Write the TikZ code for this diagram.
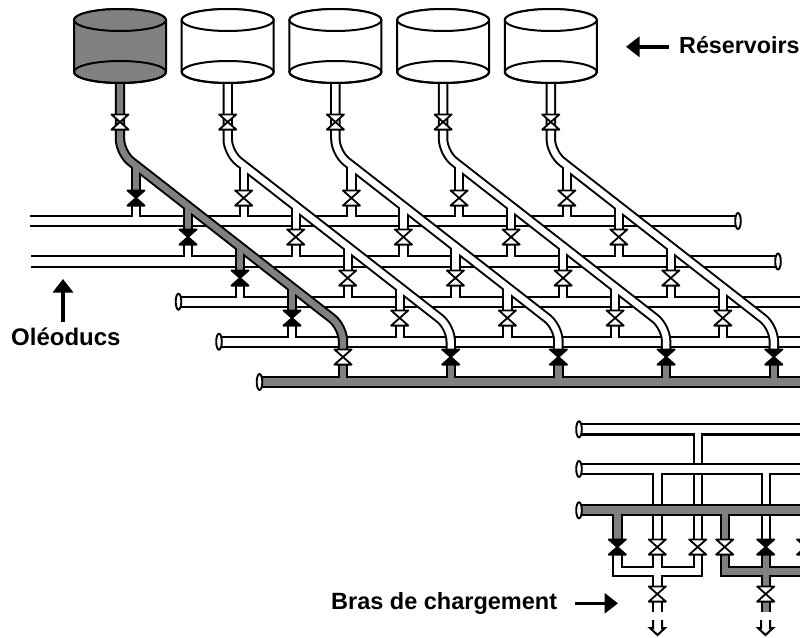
\documentclass[tikz,border=0pt]{standalone}
\usepackage{fontspec}
\setsansfont{Liberation Sans}
\usetikzlibrary{arrows.meta}
\definecolor{oil}{HTML}{808080}
\tikzset{
  mainO/.style={line width=12.4pt,black},
  mainI/.style={line width=8.2pt},
  stemO/.style={line width=10.4pt,black},
  stemI/.style={line width=6.4pt},
  capend/.style={draw=black,fill=white,line width=1.9pt},
  valvebody/.style={draw=black,line width=1.8pt,line join=round},
  tankline/.style={draw=black,line width=2pt},
  hollow/.style={draw=black,fill=white,line width=2pt,line join=miter},
  pointer/.style={black,line width=3.6pt,-{Triangle[length=13.5pt,width=20pt]}},
  caption/.style={font=\sffamily\bfseries\fontsize{24}{27}\selectfont,anchor=base west,inner sep=0pt}
}
% horizontal main with interior colour: #1 y, #2 x0, #3 x1, #4 colour
\newcommand{\mainpipe}[4]{%
  \draw[mainO] (#2,#1) -- (#3,#1);
  \draw[mainI,draw=#4] (#2-1,#1) -- (#3,#1);}
\newcommand{\pipecap}[2]{\draw[capend] (#1,#2) ellipse [x radius=2.8,y radius=8];}
% bow-tie valve: x, y, fill
\newcommand{\valve}[3]{\draw[valvebody,fill=#3] (#1-8.6,#2-7.6) -- (#1+8.6,#2-7.6) -- (#1-8.6,#2+7.6) -- (#1+8.6,#2+7.6) -- cycle;}
% stem dropping into a main: x, top y, outer end, interior end, colour
\newcommand{\dropstem}[5]{%
  \draw[stemO] (#1,#2) -- (#1,#3);
  \draw[stemI,draw=#5] (#1,#2) -- (#1,#4);}
% stem rising out of a main: x, interior start, outer start, end, colour
\newcommand{\risestem}[5]{%
  \draw[stemO] (#1,#3) -- (#1,#4);
  \draw[stemI,draw=#5] (#1,#2) -- (#1,#4);}
\newcommand{\hollowarrow}[1]{\draw[hollow] (#1-4.5,620) -- (#1-4.5,628) -- (#1-7.5,628) -- (#1,635) -- (#1+7.5,628) -- (#1+4.5,628) -- (#1+4.5,620);}
\begin{document}
\begin{tikzpicture}[x=1pt,y=-1pt]
\clip (0,0) rectangle (800,637);
\fill[white] (0,0) rectangle (800,637);
% ---- upper mains
\mainpipe{221}{30}{738}{white}
\mainpipe{261.5}{31}{778}{white}
\mainpipe{301.7}{178}{810}{white}
\mainpipe{341.7}{219}{810}{white}
\draw[line width=11.8pt,black] (259,382) -- (810,382);
\draw[line width=7.8pt,oil] (259,382) -- (810,382);
\pipecap{738}{221}
\pipecap{778}{261.5}
\pipecap{178.5}{301.7}
\pipecap{219}{341.7}
\pipecap{259.5}{382}
% ---- reservoir modules
\foreach \dx/\col/\vfill/\lastv in {0/oil/black/white,107.7/white/white/black,215.4/white/white/black,323.1/white/white/black,430.8/white/white/black}{
  \pgfmathsetmacro{\cx}{120+\dx}
  \pgfmathsetmacro{\ex}{343+\dx}
  \pgfmathsetmacro{\dxa}{136+\dx}
  \pgfmathsetmacro{\dxb}{188+\dx}
  \pgfmathsetmacro{\dxc}{240+\dx}
  \pgfmathsetmacro{\dxd}{292+\dx}
  % lower stubs into the mains
  \dropstem{\dxa}{205}{217}{221}{white}
  \dropstem{\dxb}{244.5}{257}{261.5}{white}
  \dropstem{\dxc}{285.5}{297}{301.7}{white}
  \dropstem{\dxd}{325.5}{337}{341.7}{white}
  \dropstem{\ex}{364.5}{377}{382}{oil}
  % diagonal and branches: outline first, then interior
  \draw[stemO] (\dxa,165) -- (\dxa,190.5) (\dxb,206) -- (\dxb,229.5) (\dxc,246.5) -- (\dxc,270.5) (\dxd,287) -- (\dxd,310.5);
  \draw[stemO,rounded corners=14pt] (\cx,83) -- (\cx,153) -- (\ex,327) -- (\ex,349.5);
  \draw[stemI,draw=\col] (\dxa,165) -- (\dxa,190.5) (\dxb,206) -- (\dxb,229.5) (\dxc,246.5) -- (\dxc,270.5) (\dxd,287) -- (\dxd,310.5);
  \draw[stemI,draw=\col,rounded corners=14pt] (\cx,83) -- (\cx,153) -- (\ex,327) -- (\ex,349.5);
  % valves
  \valve{\cx}{122}{white}
  \valve{\dxa}{198}{\vfill}
  \valve{\dxb}{237}{\vfill}
  \valve{\dxc}{278}{\vfill}
  \valve{\dxd}{318}{\vfill}
  \valve{\ex}{357}{\lastv}
  % tank
  \path[tankline,fill=\col] (\cx-46,20) -- (\cx-46,72) arc[start angle=180,end angle=0,x radius=46,y radius=11] -- (\cx+46,20) arc[start angle=360,end angle=180,x radius=46,y radius=11] -- cycle;
  \draw[tankline,fill=\col] (\cx,20) ellipse [x radius=46,y radius=11];
  \draw[tankline] (\cx,72) ellipse [x radius=46,y radius=11];
}
% ---- lower mains and their stems
\mainpipe{429.3}{579}{810}{white}
\pipecap{579}{429.3}
\draw[stemO] (697.7,434) -- (697.7,539.5);
\draw[stemO] (805.6,434) -- (805.6,539.5);
\draw[stemI,draw=white] (697.7,429.3) -- (697.7,539.5);
\draw[stemI,draw=white] (805.6,429.3) -- (805.6,539.5);
\mainpipe{469}{579}{810}{white}
\pipecap{579}{469}
\risestem{657.3}{469}{474}{539.5}{white}
\risestem{765.7}{469}{474}{539.5}{white}
\draw[line width=11.8pt,black] (579,510.3) -- (810,510.3);
\draw[line width=7.8pt,oil] (579,510.3) -- (810,510.3);
\pipecap{579}{510.3}
\risestem{617.3}{510.3}{515}{539.5}{oil}
\risestem{724.7}{510.3}{515}{539.5}{oil}
% ---- collectors under the valves
\draw[stemO,line join=miter] (617.3,554) -- (617.3,571.5) -- (697.7,571.5) -- (697.7,554) (657.3,554) -- (657.3,587);
\draw[stemI,draw=white,line join=miter] (617.3,554) -- (617.3,571.5) -- (697.7,571.5) -- (697.7,554) (657.3,554) -- (657.3,587);
\draw[stemO,line join=miter] (724.7,554) -- (724.7,571.5) -- (810,571.5) (765.7,554) -- (765.7,587) (805.6,554) -- (805.6,571.5);
\draw[stemI,draw=oil,line join=miter] (724.7,554) -- (724.7,571.5) -- (810,571.5) (765.7,554) -- (765.7,587) (805.6,554) -- (805.6,571.5);
\valve{617.3}{547}{black}
\valve{657.3}{547}{white}
\valve{697.7}{547}{white}
\valve{724.7}{547}{white}
\valve{765.7}{547}{black}
\valve{805.6}{547}{black}
% outlets
\draw[stemO] (657.3,601) -- (657.3,612);
\draw[stemI,draw=white] (657.3,601) -- (657.3,613);
\draw[stemO] (765.7,601) -- (765.7,612);
\draw[stemI,draw=oil] (765.7,601) -- (765.7,612);
\valve{657.3}{594}{white}
\valve{765.7}{594}{white}
\hollowarrow{657.5}
\hollowarrow{765.5}
% ---- labels
\node[caption,font=\sffamily\bfseries\fontsize{23.3}{26}\selectfont] (reservoirs) at (679,53.5) {Réservoirs};
\node[caption] (oleoducs) at (11,345.7) {Oléoducs};
\node[caption,font=\sffamily\bfseries\fontsize{23.5}{26}\selectfont] (bras) at (331,609.7) {Bras de chargement};
\coordinate (resTail) at (669,46.8);
\coordinate (resTip) at (626,46.8);
\coordinate (oleTail) at (63,322);
\coordinate (oleTip) at (63,279);
\coordinate (brasTail) at (575,603.3);
\coordinate (brasTip) at (618,603.3);
\draw[pointer] (resTail) -- (resTip);
\draw[pointer] (oleTail) -- (oleTip);
\draw[pointer] (brasTail) -- (brasTip);
\end{tikzpicture}
\end{document}
